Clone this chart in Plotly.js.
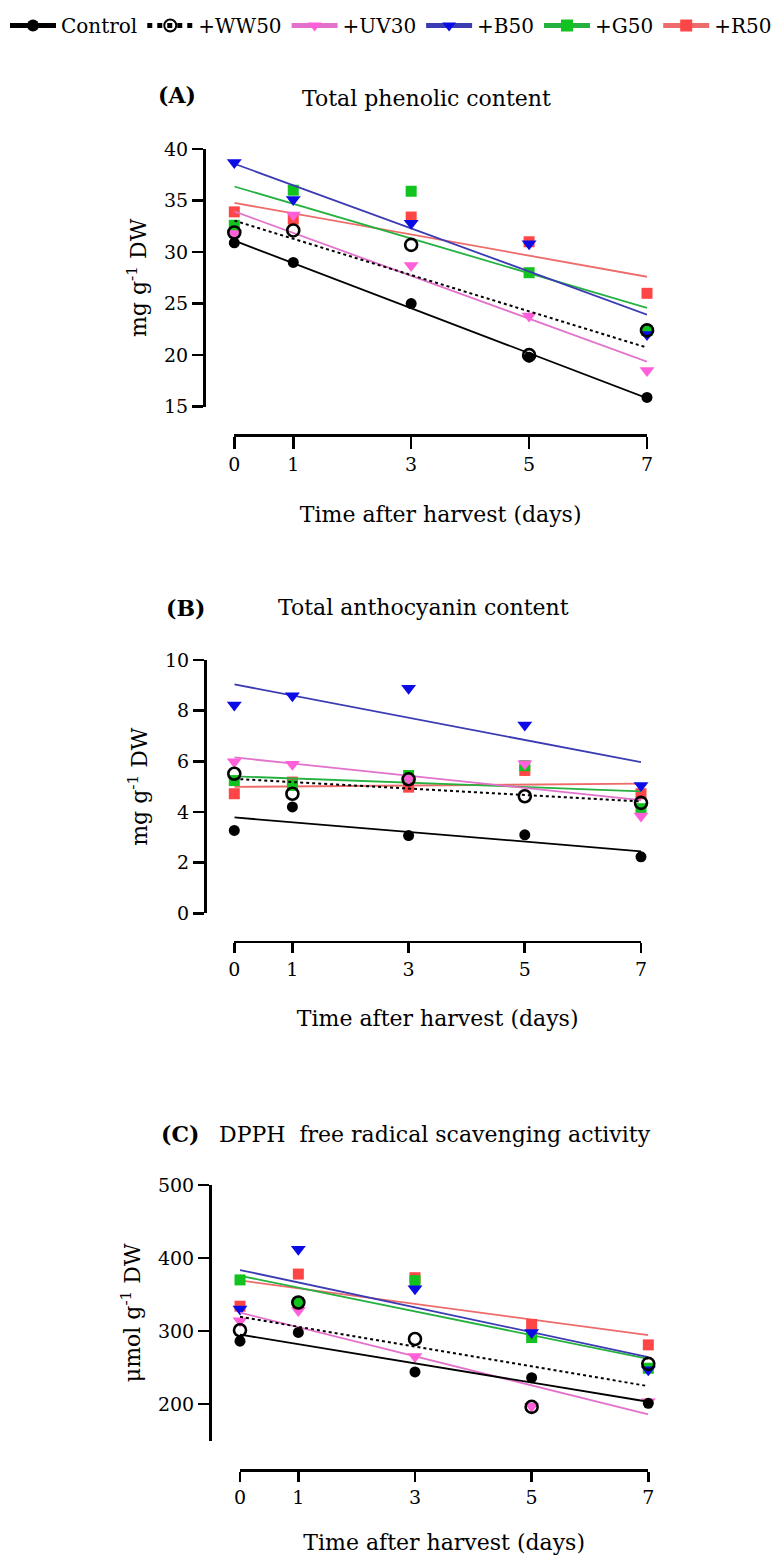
<!DOCTYPE html>
<html>
<head>
<meta charset="utf-8">
<script src="https://cdn.plot.ly/plotly-3.0.1.min.js"></script>
<style>html,body{margin:0;padding:0;background:#fff;}</style>
</head>
<body>
<div id="chart" style="width:778px;height:1555px;"></div>
<script>
// ---------------- DATA ----------------
const days = [0, 1, 3, 5, 7];
const seriesNames = ['Control', '+WW50', '+UV30', '+B50', '+G50', '+R50'];

// (A) Total phenolic content, mg g-1 DW
const phenolicControl = [30.9, 29.0, 25.0, 19.8, 15.9];
const phenolicWW50    = [31.9, 32.1, 30.7, 20.0, 22.4];
const phenolicUV30    = [31.8, 33.6, 28.7, 23.8, 18.5];
const phenolicB50     = [38.7, 35.1, 32.8, 30.8, 22.0];
const phenolicG50     = [32.6, 36.0, 35.9, 28.0, 22.4];
const phenolicR50     = [33.9, 33.2, 33.4, 31.0, 26.0];
const phenolicTicks   = [15, 20, 25, 30, 35, 40];

// (B) Total anthocyanin content, mg g-1 DW
const anthoControl = [3.27, 4.20, 3.07, 3.10, 2.23];
const anthoWW50    = [5.51, 4.72, 5.29, 4.62, 4.36];
const anthoUV30    = [5.98, 5.88, 5.31, 5.90, 3.84];
const anthoB50     = [8.22, 8.59, 8.88, 7.43, 5.05];
const anthoG50     = [5.24, 5.05, 5.44, 5.83, 4.13];
const anthoR50     = [4.72, 5.18, 4.98, 5.64, 4.72];
const anthoTicks   = [0, 2, 4, 6, 8, 10];

// (C) DPPH free radical scavenging activity, umol g-1 DW
const dpphControl = [286, 298, 244, 236, 201];
const dpphWW50    = [301, 339, 289, 196, 255];
const dpphUV30    = [314, 328, 265, 197, 203];
const dpphB50     = [330, 412, 358, 298, 247];
const dpphG50     = [370, 339, 369, 291, 249];
const dpphR50     = [334, 378, 373, 309, 281];
const dpphTicks   = [200, 300, 400, 500];

// ---------------- STYLE ----------------
const FONT = 'DejaVu Serif';
const W = 778, H = 1555;
const fx = p => p / W;
const fy = p => 1 - p / H;

const styles = [
  {symbol: 'circle',        size: 11, mcolor: '#000000', lcolor: '#000000', dash: 'solid', lw: 1.8, mlw: 0},
  {symbol: 'circle-open',   size: 12, mcolor: '#000000', lcolor: '#000000', dash: 'dot',   lw: 2.0, mlw: 2.6},
  {symbol: 'triangle-down', size: 13, mcolor: '#FF5FD8', lcolor: '#E272CB', dash: 'solid', lw: 1.8, mlw: 0},
  {symbol: 'triangle-down', size: 13, mcolor: '#0B0BE6', lcolor: '#3B3BB3', dash: 'solid', lw: 1.8, mlw: 0},
  {symbol: 'square',        size: 11, mcolor: '#12C21F', lcolor: '#25B140', dash: 'solid', lw: 1.8, mlw: 0},
  {symbol: 'square',        size: 11, mcolor: '#FF4646', lcolor: '#EE6B6B', dash: 'solid', lw: 1.8, mlw: 0}
];

function linFit(xs, ys) {
  const n = xs.length;
  const mx = xs.reduce((a, b) => a + b, 0) / n;
  const my = ys.reduce((a, b) => a + b, 0) / n;
  let sxy = 0, sxx = 0;
  for (let i = 0; i < n; i++) { sxy += (xs[i] - mx) * (ys[i] - my); sxx += (xs[i] - mx) ** 2; }
  const b = sxy / sxx;
  return {a: my - b * mx, b: b};
}

function buildTraces(seriesList, xa, ya, legend) {
  const traces = [];
  // last series drawn first, so Control ends on top
  for (let i = seriesList.length - 1; i >= 0; i--) {
    const ys = seriesList[i];
    const st = styles[i];
    const f = linFit(days, ys);
    const x = [], y = [], sz = [];
    days.forEach((d, k) => { x.push(d, null); y.push(ys[k], null); sz.push(st.size, st.size); });
    const x0 = Math.min(...days), x1 = Math.max(...days);
    x.push(x0, x1); y.push(f.a + f.b * x0, f.a + f.b * x1); sz.push(0, 0);
    traces.push({
      type: 'scatter', mode: 'lines+markers', x: x, y: y,
      xaxis: xa, yaxis: ya, name: seriesNames[i], showlegend: legend, legendrank: i + 1,
      connectgaps: false, cliponaxis: false, hoverinfo: 'skip',
      marker: {symbol: st.symbol, size: sz, opacity: 1, color: st.mcolor, line: {width: st.mlw, color: st.mcolor}},
      line: {color: st.lcolor, width: st.lw, dash: st.dash}
    });
  }
  return traces;
}

const data = []
  .concat(buildTraces([phenolicControl, phenolicWW50, phenolicUV30, phenolicB50, phenolicG50, phenolicR50], 'x', 'y', true))
  .concat(buildTraces([anthoControl, anthoWW50, anthoUV30, anthoB50, anthoG50, anthoR50], 'x2', 'y2', false))
  .concat(buildTraces([dpphControl, dpphWW50, dpphUV30, dpphB50, dpphG50, dpphR50], 'x3', 'y3', false));

function xAxis(left, right, pos, tlen, standoff) {
  return {
    domain: [fx(left), fx(right)], range: [Math.min(...days), Math.max(...days)],
    anchor: 'free', position: fy(pos),
    showline: true, linewidth: 2.6, linecolor: '#000', mirror: false,
    ticks: 'outside', ticklen: tlen, tickwidth: 2.6, tickcolor: '#000',
    tickvals: days, tickfont: {family: FONT, size: 19, color: '#000'},
    showgrid: false, zeroline: false, fixedrange: true,
    title: {text: 'Time after harvest (days)', font: {family: FONT, size: 22, color: '#000'}, standoff: standoff}
  };
}
function yAxis(bottom, top, pos, range, ticks, title, standoff) {
  return {
    domain: [fy(bottom), fy(top)], range: range,
    anchor: 'free', position: fx(pos),
    showline: true, linewidth: 2.6, linecolor: '#000',
    ticks: 'outside', ticklen: 11, tickwidth: 2.6, tickcolor: '#000',
    tickvals: ticks, tickfont: {family: FONT, size: 19, color: '#000'},
    showgrid: false, zeroline: false, fixedrange: true,
    title: {text: title, font: {family: FONT, size: 22, color: '#000'}, standoff: standoff}
  };
}

function ann(text, x, y, bold) {
  return {text: bold ? '<b>' + text + '</b>' : text, xref: 'paper', yref: 'paper',
          x: fx(x), y: fy(y), xanchor: 'center', yanchor: 'middle', showarrow: false,
          font: {family: FONT, size: 22, color: '#000'}};
}

const layout = {
  width: W, height: H,
  margin: {l: 0, r: 0, t: 0, b: 0},
  paper_bgcolor: '#fff', plot_bgcolor: 'rgba(0,0,0,0)',
  font: {family: FONT, color: '#000'},
  showlegend: true,
  legend: {orientation: 'h', x: fx(5), xanchor: 'left', y: fy(6), yanchor: 'top',
           font: {family: FONT, size: 20, color: '#000'}, itemwidth: 46, itemsizing: 'constant',
           bgcolor: 'rgba(0,0,0,0)'},
  xaxis:  xAxis(234.3, 647, 435, 12, 31),
  yaxis:  yAxis(406.7, 149, 204, [15, 40], phenolicTicks, 'mg g<sup>-1</sup> DW', 10),
  xaxis2: xAxis(234.3, 641, 941.7, 10, 31),
  yaxis2: yAxis(913.3, 660, 205, [0, 10], anthoTicks, 'mg g<sup>-1</sup> DW', 10),
  xaxis3: xAxis(240, 648.3, 1470, 10, 28),
  yaxis3: yAxis(1440.5, 1185, 210, [150, 500], dpphTicks, '\u03bcmol g<sup>-1</sup> DW', 10),
  annotations: [
    ann('(A)', 177, 95, true),
    ann('Total phenolic content', 426, 99, false),
    ann('(B)', 185, 608, true),
    ann('Total anthocyanin content', 424, 608, false),
    ann('(C)', 180, 1134, true),
    ann('DPPH\u00a0 free radical scavenging activity', 435, 1134, false)
  ]
};

Plotly.newPlot('chart', data, layout, {displayModeBar: false, staticPlot: true});
</script>
</body>
</html>
